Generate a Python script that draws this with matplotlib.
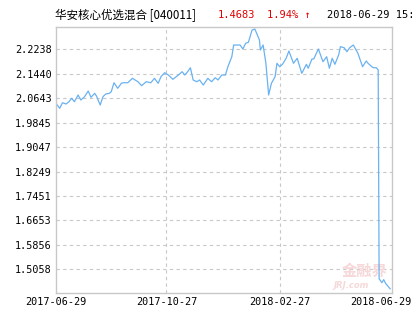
import matplotlib
matplotlib.use("Agg")
from matplotlib import pyplot as plt
import matplotlib.transforms as mtransforms
import numpy as np

# datos (dias desde 2017-06-29, valor neto)
start = np.datetime64("2017-06-29")
days = [0, 4, 7, 11, 14, 17, 20, 24, 27, 31, 35, 38, 42, 44, 48, 51, 54, 58, 60,
        63, 67, 71, 73, 78, 83, 89, 93, 98, 103, 107, 111, 114, 118, 122, 127,
        133, 137, 140, 143, 146, 149, 153, 156, 160, 165, 169, 173, 176, 180,
        184, 187, 191, 193, 200, 203, 206, 209, 213, 216, 221, 222, 225, 228,
        231, 234, 238, 240, 243, 246, 250, 253, 258, 262, 267, 272, 274, 278,
        280, 285, 290, 294, 297, 300, 303, 307, 309, 313, 316, 319, 323, 326,
        328, 333, 337, 339, 343, 345, 348, 350, 351, 354, 356, 358, 363]
nav = [2.0475, 2.0312, 2.0494, 2.0452, 2.0527, 2.0638, 2.0527, 2.0746, 2.0583,
       2.0690, 2.0877, 2.0671, 2.0801, 2.0713, 2.0419, 2.0690, 2.0779, 2.0801,
       2.0854, 2.1147, 2.0965, 2.1128, 2.1147, 2.1147, 2.1291, 2.1180, 2.1050,
       2.1180, 2.1147, 2.1291, 2.1128, 2.1343, 2.1474, 2.1399, 2.1259, 2.1399,
       2.1507, 2.1399, 2.1507, 2.1637, 2.1236, 2.1180, 2.1236, 2.1072, 2.1291,
       2.1180, 2.1311, 2.1236, 2.1399, 2.1399, 2.1693, 2.1996, 2.2378, 2.2378,
       2.2248, 2.2434, 2.2467, 2.2868, 2.2901, 2.2542, 2.2215, 2.2378, 2.1781,
       2.0746, 2.1128, 2.1343, 2.1781, 2.1670, 2.1748, 2.1944, 2.2182, 2.1781,
       2.1944, 2.1454, 2.1748, 2.1618, 2.1921, 2.1921, 2.2248, 2.1833, 2.1996,
       2.1618, 2.1944, 2.1748, 2.2052, 2.2323, 2.2290, 2.2160, 2.2290, 2.2378,
       2.2215, 2.2107, 2.1670, 2.1856, 2.1781, 2.1670, 2.1637, 2.1637, 2.1562,
       1.4750, 1.4620, 1.4720, 1.4600, 1.4420]

yticks = [1.5058, 1.5856, 1.6653, 1.7451, 1.8249, 1.9047, 1.9845, 2.0643, 2.1440, 2.2238]
xticks = ["2017-06-29", "2017-10-27", "2018-02-27", "2018-06-29"]

fechas = start + np.array(days).astype("timedelta64[D]")

fig = plt.figure(figsize=(4.15, 3.3), dpi=100)
ax = fig.add_axes([56/415, 1-293/330, 336/415, 266/330])

ax.plot(fechas, nav, color="#6ab2f2", linewidth=0.9)

ax.set_ylim(1.4284, 2.2966)
ax.set_xlim(np.datetime64("2017-06-29"), np.datetime64("2018-06-29"))
ax.set_yticks(yticks)
ax.set_yticklabels(["%.4f" % v for v in yticks])
xt = [np.datetime64(s) for s in xticks]
ax.set_xticks(xt)
ax.set_xticklabels(xticks)

for v in yticks:
    ax.axhline(v, color="#c8c8c8", linewidth=0.8, linestyle=(0, (3, 3)), zorder=0)
for t in xt[1:-1]:
    ax.axvline(t, color="#c8c8c8", linewidth=0.8, linestyle=(0, (3, 3)), zorder=0)

for s in ax.spines.values():
    s.set_color("#c8c8c8")
    s.set_linewidth(1.0)
ax.tick_params(length=0, pad=3, labelsize=7.3, colors="black")
for lab in ax.get_xticklabels() + ax.get_yticklabels():
    lab.set_family("DejaVu Sans Mono")
# la ultima fecha va corrida a la izquierda como en el original
ult = ax.get_xticklabels()[-1]
ult.set_transform(ult.get_transform() + mtransforms.ScaledTranslation(-0.11, 0, fig.dpi_scale_trans))

# marca de agua
ax.text(0.985, 0.085, "金融界", transform=ax.transAxes, ha="right", va="center",
        fontsize=11, color="#f6d8d8", family="Noto Sans CJK SC", fontweight="bold", zorder=0)
ax.text(0.93, 0.03, "JRJ.com", transform=ax.transAxes, ha="right", va="center",
        fontsize=6, color="#f6d8d8", style="italic", fontweight="bold", zorder=0)

# titulo
ty = 1 - 15/330
fig.text(55/415, ty, "华安核心优选混合 [040011]", ha="left", va="center", fontsize=8.3,
         family=["Noto Sans CJK SC", "DejaVu Sans"], color="black")
fig.text(218/415, ty, "1.4683", ha="left", va="center", fontsize=7.5,
         family="DejaVu Sans Mono", color="#e00000")
fig.text(267/415, ty, "1.94% ↑", ha="left", va="center", fontsize=7.5,
         family="DejaVu Sans Mono", color="#e00000")
fig.text(327/415, ty, "2018-06-29 15:00", ha="left", va="center", fontsize=7.5,
         family="DejaVu Sans Mono", color="black")

plt.savefig("out.png", dpi=100)
